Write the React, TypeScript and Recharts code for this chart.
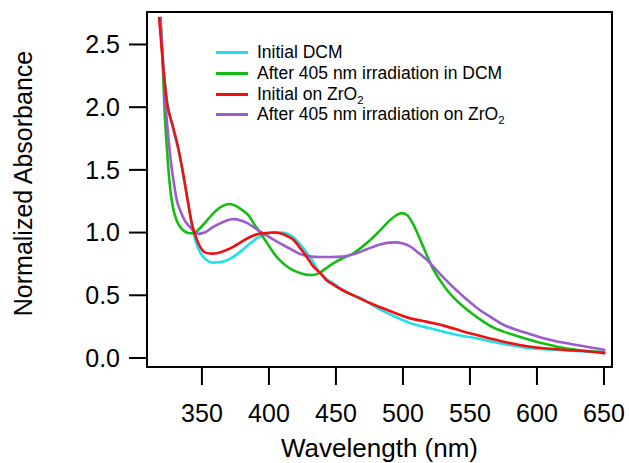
import { LineChart, Line, XAxis, YAxis, Legend, ReferenceArea } from 'recharts';

const FONT = '"Liberation Sans", Arial, sans-serif';

// wavelength (nm) / normalized absorbance
const dcmInitialNm = [319, 321, 324, 328, 332.6, 336, 339.3, 342.5, 345, 349, 353, 358, 364, 369, 374, 379, 385, 391, 397, 403, 409, 414, 419, 423, 427, 431, 438, 443, 448, 455, 462, 468, 476, 485, 495, 505, 515, 523, 535, 545, 555, 565, 575, 585, 595, 605, 615, 625, 635, 645, 651];
const dcmInitialAbs = [2.72, 2.36, 2.05, 1.85, 1.65, 1.46, 1.26, 1.06, 0.94, 0.835, 0.785, 0.76, 0.765, 0.78, 0.81, 0.85, 0.905, 0.955, 0.985, 1.0, 1.0, 0.99, 0.955, 0.91, 0.855, 0.8, 0.68, 0.63, 0.595, 0.545, 0.505, 0.48, 0.43, 0.375, 0.325, 0.28, 0.25, 0.229, 0.197, 0.175, 0.157, 0.133, 0.112, 0.093, 0.077, 0.07, 0.064, 0.058, 0.053, 0.048, 0.045];

const dcmAfterNm = [319, 320.5, 322, 324, 326, 328, 331, 334, 337, 341, 344, 348, 354, 360, 366, 370, 375, 380, 385, 390, 394, 399, 404, 409, 414, 419, 424, 429, 432, 437, 442, 448, 455, 463, 470, 478, 484, 489, 494, 499, 503, 507, 511, 515, 519, 523, 528, 533, 538, 545, 552, 560, 567, 575, 585, 595, 605, 615, 625, 635, 645, 651];
const dcmAfterAbs = [2.72, 2.4, 2.0, 1.65, 1.38, 1.22, 1.1, 1.04, 1.01, 0.995, 0.995, 1.03, 1.1, 1.17, 1.215, 1.228, 1.215, 1.18, 1.135, 1.05, 0.99, 0.91, 0.83, 0.77, 0.725, 0.695, 0.675, 0.663, 0.662, 0.675, 0.71, 0.755, 0.795, 0.835, 0.89, 0.965, 1.03, 1.085, 1.13, 1.155, 1.14, 1.08, 0.99, 0.89, 0.79, 0.7, 0.615, 0.54, 0.48, 0.41, 0.35, 0.29, 0.245, 0.21, 0.175, 0.144, 0.115, 0.09, 0.072, 0.058, 0.049, 0.045];

const zrInitialNm = [318, 321, 324, 328, 332.6, 336, 339.3, 342.5, 346, 349, 352.5, 357, 361, 367, 374, 380, 386, 392, 398, 404, 409, 414, 419, 423, 428, 433, 438, 443, 448, 455, 465, 475, 485, 495, 505, 515, 523, 533, 543, 555, 565, 575, 585, 595, 605, 615, 625, 635, 645, 651];
const zrInitialAbs = [2.72, 2.33, 2.03, 1.86, 1.66, 1.47, 1.26, 1.07, 0.95, 0.88, 0.84, 0.832, 0.835, 0.855, 0.89, 0.93, 0.965, 0.988, 0.997, 1.0, 0.993, 0.97, 0.935, 0.88, 0.81, 0.73, 0.68, 0.62, 0.585, 0.54, 0.489, 0.44, 0.396, 0.355, 0.317, 0.295, 0.277, 0.25, 0.218, 0.183, 0.155, 0.13, 0.108, 0.09, 0.078, 0.069, 0.062, 0.056, 0.045, 0.037];

const zrAfterNm = [319, 321, 323, 325, 327, 329, 331, 334, 337, 341, 344.5, 347.5, 352, 357, 362, 368, 374, 379, 384, 389, 394, 400, 408, 416, 423, 430, 438, 446, 455, 464, 473, 483, 490, 495, 500, 506, 512, 518, 525, 530, 535, 540, 545, 550, 557, 565, 575, 585, 595, 605, 615, 625, 635, 645, 651];
const zrAfterAbs = [2.72, 2.35, 2.0, 1.75, 1.55, 1.4, 1.27, 1.17, 1.1, 1.045, 1.005, 0.99, 1.0, 1.035, 1.065, 1.095, 1.107, 1.097, 1.075, 1.04, 1.005, 0.965, 0.915, 0.87, 0.83, 0.81, 0.805, 0.805, 0.808, 0.83, 0.867, 0.905, 0.92, 0.922, 0.912, 0.885, 0.835, 0.78, 0.7, 0.645, 0.59, 0.54, 0.49, 0.445, 0.385, 0.33, 0.265, 0.223, 0.19, 0.157, 0.132, 0.112, 0.093, 0.075, 0.064];

const xTicks = [350, 400, 450, 500, 550, 600, 650];
const yTicks = [0, 0.5, 1.0, 1.5, 2.0, 2.5];
const xDomain = [309, 656];
const yDomain = [-0.072, 2.759];

const toPoints = (nm: number[], abs: number[]) => nm.map((x, i) => ({ nm: x, abs: abs[i] }));

const series = [
  { key: 'dcmInitial', label: ['Initial DCM'], color: '#1EE0EA', data: toPoints(dcmInitialNm, dcmInitialAbs) },
  { key: 'dcmAfter', label: ['After 405 nm irradiation in DCM'], color: '#12BE12', data: toPoints(dcmAfterNm, dcmAfterAbs) },
  { key: 'zrAfter', label: ['After 405 nm irradiation on ZrO', '2'], color: '#9B5CCF', data: toPoints(zrAfterNm, zrAfterAbs) },
  { key: 'zrInitial', label: ['Initial on ZrO', '2'], color: '#F01010', data: toPoints(zrInitialNm, zrInitialAbs) },
];

const legendOrder = ['dcmInitial', 'dcmAfter', 'zrInitial', 'zrAfter'];

function LegendBox() {
  return (
    <div style={{ fontFamily: FONT, fontSize: 17.5, color: '#000' }}>
      {legendOrder.map((k) => {
        const s = series.find((x) => x.key === k)!;
        return (
          <div key={k} style={{ display: 'flex', alignItems: 'center', height: 20.7, whiteSpace: 'nowrap' }}>
            <div style={{ width: 32, height: 3, background: s.color, marginLeft: 4, marginRight: 9 }} />
            <span style={{ lineHeight: '17px' }}>
              {s.label[0]}
              {s.label[1] && <sub style={{ fontSize: 11.5, lineHeight: 0, verticalAlign: -4 }}>{s.label[1]}</sub>}
            </span>
          </div>
        );
      })}
    </div>
  );
}

const yTitle = (props: any) => {
  const { viewBox } = props;
  const cx = viewBox.x + 23;
  const cy = viewBox.y + viewBox.height / 2 - 6;
  return (
    <text x={cx} y={cy} transform={`rotate(-90, ${cx}, ${cy})`} textAnchor="middle" dominantBaseline="central"
      fontSize={25} fill="#000" fontFamily={FONT}>
      Normalized Absorbance
    </text>
  );
};

export default function App() {
  const axisStroke = { stroke: '#000', strokeWidth: 2 };
  return (
    <div style={{ position: 'absolute', left: 0, top: 0, background: '#fff' }}>
      <LineChart width={629} height={463} margin={{ top: 12, right: 17, bottom: 0, left: 0 }}>
        <XAxis xAxisId="x" type="number" dataKey="nm" domain={xDomain} ticks={xTicks} allowDataOverflow
          height={96} tickSize={18} tickMargin={19} axisLine={axisStroke} tickLine={axisStroke}
          tick={{ fontSize: 25, fill: '#000', fontFamily: FONT }}
          label={{ value: 'Wavelength (nm)', position: 'insideBottom', offset: 6, fontSize: 26, fill: '#000', fontFamily: FONT }} />
        <YAxis yAxisId="y" type="number" domain={yDomain} ticks={yTicks} allowDataOverflow
          width={147} tickSize={18} tickMargin={9} axisLine={axisStroke} tickLine={axisStroke}
          tickFormatter={(v: number) => v.toFixed(1)}
          tick={{ fontSize: 25, fill: '#000', fontFamily: FONT }}
          label={{ content: yTitle }} />
        <ReferenceArea xAxisId="x" yAxisId="y" x1={xDomain[0]} x2={xDomain[1]} y1={yDomain[0]} y2={yDomain[1]}
          fill="none" stroke="#000" strokeWidth={2} ifOverflow="extendDomain" />
        <Legend layout="horizontal" verticalAlign="middle" align="center"
          wrapperStyle={{ left: 212, top: 42.5, width: 330, height: 90 }}
          content={() => <LegendBox />} />
        {series.map((s) => (
          <Line key={s.key} xAxisId="x" yAxisId="y" data={s.data} dataKey="abs" type="monotone"
            stroke={s.color} strokeWidth={2.6} dot={false} activeDot={false} isAnimationActive={false} />
        ))}
      </LineChart>
    </div>
  );
}
